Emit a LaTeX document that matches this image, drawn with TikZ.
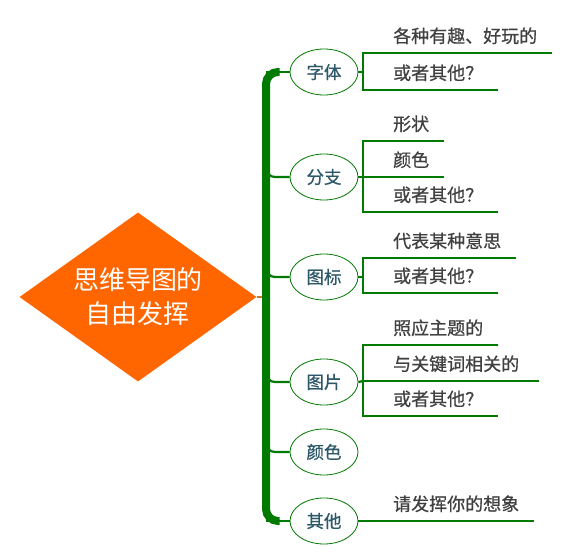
\documentclass[tikz,border=0pt]{standalone}
\usepackage{fontspec}
\setmainfont{Noto Sans CJK SC}
\newfontfamily\mapfont{Noto Sans CJK SC}[FakeBold=0.6]
\usetikzlibrary{shapes.geometric}

\definecolor{mapgreen}{RGB}{0,122,0}
\definecolor{coreorange}{RGB}{255,102,0}
\definecolor{stubbrown}{RGB}{205,120,35}
\definecolor{topicblue}{RGB}{45,88,105}
\definecolor{leafgray}{RGB}{64,64,64}

\begin{document}
\begin{tikzpicture}[x = 1pt, y = -1pt,
  core/.style = {diamond, aspect = 1.4, fill = coreorange, minimum width = 237pt, minimum height = 169pt, inner sep = 0pt, text = white, align = center, font = \fontsize{26}{34}\selectfont},
  topic/.style = {ellipse, draw = mapgreen, line width = 0.8pt, minimum width = 68pt, minimum height = 46pt, inner sep = 0pt, text = topicblue, font = \mapfont\fontsize{17.5}{20}\selectfont},
  leaf/.style = {anchor = south west, minimum height = 34pt, inner sep = 0pt, text = leafgray, font = \mapfont\fontsize{18}{20}\selectfont},
  trunk/.style = {draw = mapgreen, line width = 8pt, rounded corners = 12pt},
  twig/.style = {draw = mapgreen, line width = 2.2pt, rounded corners = 9pt},
  uline/.style = {draw = mapgreen, line width = 2.2pt},
  stub/.style = {draw = stubbrown, line width = 2pt}]

  \useasboundingbox (0, 0) rectangle (587, 559);

  \node [core] (core) at (138, 297) {思维导图的\\自由发挥};

  \node [topic] (zt) at (324, 72) {字体};
  \node [topic] (ft) at (324, 177) {分支};
  \node [topic] (tt) at (324, 277) {图标};
  \node [topic] (pt) at (324, 382) {图片};
  \node [topic] (ct) at (324, 452) {颜色};
  \node [topic] (qt) at (324, 521) {其他};

  % trunk
  \coordinate (jtop) at (266, 72);
  \coordinate (jbot) at (266, 521);
  \coordinate (jf) at (266, 165);
  \coordinate (jt) at (266, 265);
  \coordinate (jp) at (266, 370);
  \coordinate (jc) at (266, 440);

  \draw [stub] (core.east) -- (core.east -| jtop);

  \draw [twig] (zt.west) -- (jtop);
  \draw [twig] (qt.west) -- (jbot);
  \draw [twig] (ft.west) -| (jf);
  \draw [twig] (tt.west) -| (jt);
  \draw [twig] (pt.west) -| (jp);
  \draw [twig] (ct.west) -| (jc);
  \draw [trunk] ([xshift = -10pt]zt.west) -- (jtop) -- (jbot) -- ([xshift = -10pt]qt.west);

  % font
  \node [leaf] (z1) at (393, 53) {各种有趣、好玩的};
  \node [leaf] (z2) at (393, 90) {或者其他？};
  \coordinate (zb) at (363, 72);
  \draw [uline] ([xshift = 15pt]z1.south east) -- (zb |- z1.south) -- (zb |- z2.south) -- ([xshift = 15pt]z2.south east);
  \draw [uline] (zt.east) -- (zb);

  % branch
  \node [leaf] (f1) at (393, 141) {形状};
  \node [leaf] (f2) at (393, 177) {颜色};
  \node [leaf] (f3) at (393, 212) {或者其他？};
  \coordinate (fb) at (363, 177);
  \draw [uline] ([xshift = 15pt]f1.south east) -- (fb |- f1.south) -- (fb |- f3.south) -- ([xshift = 15pt]f3.south east);
  \draw [uline] (fb) -- ([xshift = 15pt]f2.south east);
  \draw [uline] (ft.east) -- (fb);

  % icon
  \node [leaf] (t1) at (393, 258) {代表某种意思};
  \node [leaf] (t2) at (393, 293) {或者其他？};
  \coordinate (tb) at (363, 277);
  \draw [uline] ([xshift = 15pt]t1.south east) -- (tb |- t1.south) -- (tb |- t2.south) -- ([xshift = 15pt]t2.south east);
  \draw [uline] (tt.east) -- (tb);

  % picture
  \node [leaf] (p1) at (393, 345) {照应主题的};
  \node [leaf] (p2) at (393, 381) {与关键词相关的};
  \node [leaf] (p3) at (393, 416) {或者其他？};
  \coordinate (pb) at (363, 381);
  \draw [uline] ([xshift = 15pt]p1.south east) -- (pb |- p1.south) -- (pb |- p3.south) -- ([xshift = 15pt]p3.south east);
  \draw [uline] (pb) -- ([xshift = 20pt]p2.south east);
  \draw [uline] (pt.east) -- (pb);

  % other
  \node [leaf] (q1) at (393, 521) {请发挥你的想象};
  \draw [uline] (qt.east) -- ([xshift = 15pt]q1.south east);

\end{tikzpicture}
\end{document}
